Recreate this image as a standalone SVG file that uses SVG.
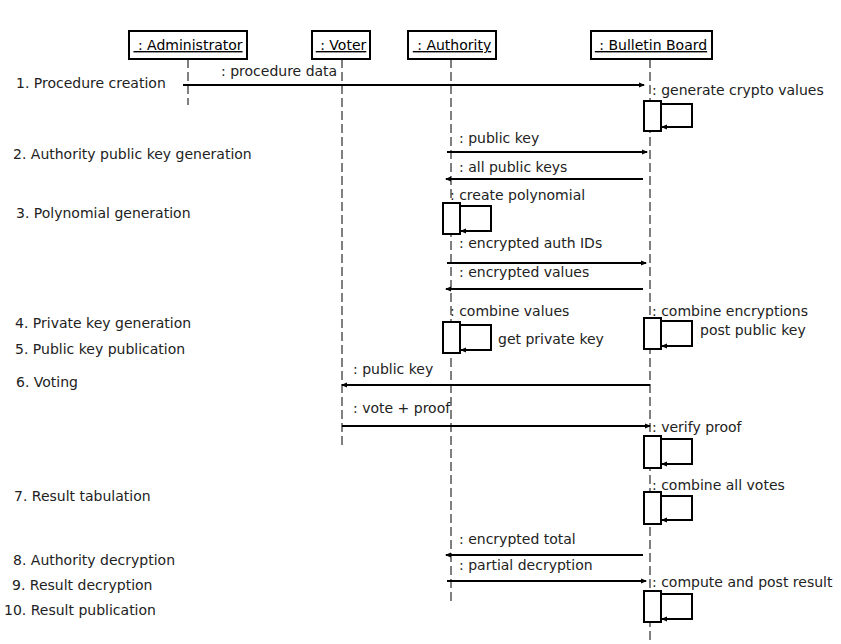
<svg xmlns="http://www.w3.org/2000/svg" width="841" height="644" viewBox="0 0 841 644">
<style>
text{font-family:"DejaVu Sans","Liberation Sans",sans-serif;font-size:14px;fill:#222}
.head{fill:#fff;stroke:#000;stroke-width:2}
.hl{text-decoration:underline;fill:#000}
.life{stroke:#000;stroke-width:1;stroke-dasharray:9 4;fill:none}
.msg{stroke:#000;stroke-width:2;fill:none;marker-end:url(#ah)}
.act{fill:#fff;stroke:#000;stroke-width:2}
.loop{stroke:#000;stroke-width:2;fill:none;marker-end:url(#ah)}
</style>
<defs>
<marker id="ah" viewBox="0 0 6 6" refX="5" refY="3" markerWidth="6" markerHeight="6" orient="auto" markerUnits="userSpaceOnUse">
<path d="M0,0.5 L6,3 L0,5.5 z" fill="#000"/>
</marker>
</defs>
<rect width="841" height="644" fill="#fff"/>

<g id="lifelines">
<line class="life" x1="188" y1="59" x2="188" y2="105"/>
<line class="life" x1="342" y1="59" x2="342" y2="448"/>
<line class="life" x1="451" y1="59" x2="451" y2="603"/>
<line class="life" x1="650" y1="59" x2="650" y2="644"/>
</g>

<g id="administrator"><rect class="head" x="129" y="31" width="118" height="28"/><text class="hl" x="188" y="50" text-anchor="middle">&#160;: Administrator</text></g>
<g id="voter"><rect class="head" x="312" y="31" width="58" height="28"/><text class="hl" x="341" y="50" text-anchor="middle">&#160;: Voter</text></g>
<g id="authority"><rect class="head" x="408" y="31" width="88" height="28"/><text class="hl" x="452" y="50" text-anchor="middle">&#160;: Authority</text></g>
<g id="bulletin-board"><rect class="head" x="591" y="31" width="121" height="28"/><text class="hl" x="651" y="50" text-anchor="middle">&#160;: Bulletin Board</text></g>

<g id="activations">
<rect class="act" x="644" y="101" width="17" height="30"/>
<rect class="act" x="443" y="203" width="17" height="31"/>
<rect class="act" x="443" y="322" width="17" height="31"/>
<rect class="act" x="644" y="318" width="17" height="31"/>
<rect class="act" x="644" y="436" width="17" height="32"/>
<rect class="act" x="644" y="492" width="17" height="32"/>
<rect class="act" x="644" y="591" width="17" height="31"/>
</g>

<g id="connectors">
<line class="msg" x1="183" y1="85" x2="644" y2="85"/>
<path class="loop" d="M661,104 H692 V127 H662"/>
<line class="msg" x1="447" y1="152" x2="647" y2="152"/>
<line class="msg" x1="643" y1="179" x2="446" y2="179"/>
<path class="loop" d="M460,206 H491 V231 H461"/>
<line class="msg" x1="447" y1="263" x2="646" y2="263"/>
<line class="msg" x1="643" y1="289" x2="446" y2="289"/>
<path class="loop" d="M460,325 H491 V350 H461"/>
<path class="loop" d="M661,321 H692 V346 H662"/>
<line class="msg" x1="650" y1="385" x2="342" y2="385"/>
<line class="msg" x1="342" y1="426" x2="650" y2="426"/>
<path class="loop" d="M661,439 H692 V464 H662"/>
<path class="loop" d="M661,496 H692 V520 H662"/>
<line class="msg" x1="643" y1="555" x2="446" y2="555"/>
<line class="msg" x1="447" y1="581" x2="646" y2="581"/>
<path class="loop" d="M661,594 H692 V619 H662"/>
</g>

<g id="message-labels">
<text x="221" y="76">: procedure data</text>
<text x="652" y="95">: generate crypto values</text>
<text x="459" y="143">: public key</text>
<text x="459" y="172">: all public keys</text>
<text x="450" y="200">: create polynomial</text>
<text x="459" y="248">: encrypted auth IDs</text>
<text x="459" y="277">: encrypted values</text>
<text x="450" y="316">: combine values</text>
<text x="498" y="344">get private key</text>
<text x="652" y="316">: combine encryptions</text>
<text x="700" y="335">post public key</text>
<text x="353" y="374">: public key</text>
<text x="353" y="413">: vote + proof</text>
<text x="652" y="432">: verify proof</text>
<text x="652" y="490">: combine all votes</text>
<text x="459" y="544">: encrypted total</text>
<text x="459" y="570">: partial decryption</text>
<text x="652" y="587">: compute and post result</text>
</g>

<g id="steps">
<text x="16" y="88">1. Procedure creation</text>
<text x="13" y="159">2. Authority public key generation</text>
<text x="16" y="218">3. Polynomial generation</text>
<text x="15" y="328">4. Private key generation</text>
<text x="15" y="354">5. Public key publication</text>
<text x="16" y="387">6. Voting</text>
<text x="14" y="501">7. Result tabulation</text>
<text x="13" y="565">8. Authority decryption</text>
<text x="12" y="590">9. Result decryption</text>
<text x="4" y="615">10. Result publication</text>
</g>
</svg>
